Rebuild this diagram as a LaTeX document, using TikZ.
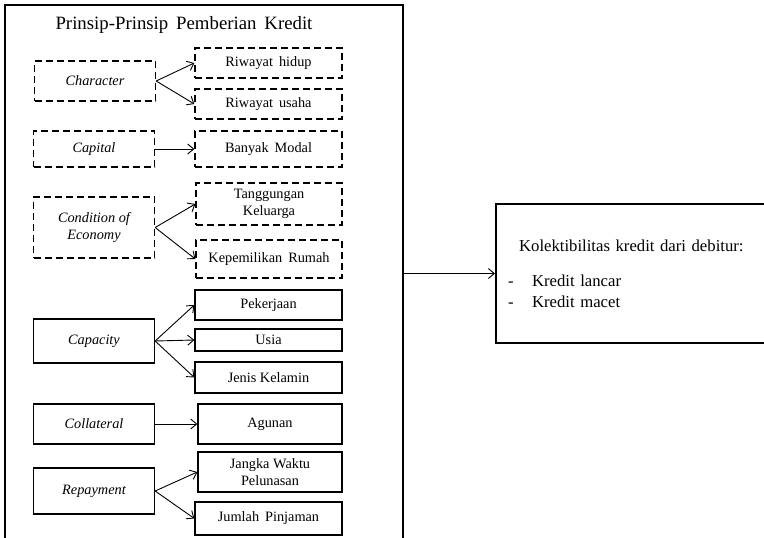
\documentclass[tikz,border=0pt]{standalone}
\usepackage{fontspec}
\setmainfont{Liberation Serif}
\usetikzlibrary{arrows.meta, positioning}

\begin{document}
\begin{tikzpicture}[
    x=1pt, y=-1pt,
    rahmen/.style={rectangle, draw=black, line width=2pt, inner sep=0pt},
    kriteria/.style={rectangle, draw=black, line width=1.3pt, inner sep=0pt, minimum width=121pt, align=center, font=\fontsize{14.3pt}{17pt}\selectfont\itshape},
    indikator/.style={rectangle, draw=black, line width=1.3pt, inner sep=0pt, minimum width=147pt, align=center, font=\fontsize{14.3pt}{17pt}\selectfont},
    putus/.style={dash pattern=on 7pt off 4pt},
    hasil/.style={rectangle, draw=black, line width=2.2pt, inner xsep=12pt, text width=265pt, minimum height=139pt, align=left, font=\fontsize{16.7pt}{20.5pt}\selectfont},
    arrow/.style={-{Straight Barb[length=6pt, width=10pt]}, line width=0.9pt, draw=black}
]
    \clip (0,0) rectangle (764,538);

    \node[rahmen, minimum width=398pt, minimum height=560pt] (frame) at (204,285) {};
    \node[font=\fontsize{18.8pt}{22pt}\selectfont] (judul) at (184,25) {Prinsip-Prinsip\, Pemberian\, Kredit};

    \node[kriteria, putus, minimum height=40pt] (character) at (95,81) {Character};
    \node[indikator, putus, minimum height=30pt] (hidup) at (268.5,63) {Riwayat\, hidup};
    \node[indikator, putus, minimum height=30pt] (usaha) at (268.5,104) {Riwayat\, usaha};

    \node[kriteria, putus, minimum height=36pt] (capital) at (94,149) {Capital};
    \node[indikator, putus, minimum height=36pt] (modal) at (268.5,149) {Banyak\, Modal};

    \node[kriteria, putus, minimum height=61pt] (condition) at (94,227.5) {Condition of\\Economy};
    \node[indikator, putus, minimum width=146pt, minimum height=42pt] (tanggungan) at (269,204) {Tanggungan\\Keluarga};
    \node[indikator, putus, minimum width=146pt, minimum height=38pt] (rumah) at (269,259) {Kepemilikan\, Rumah};

    \node[kriteria, minimum height=44pt] (capacity) at (94,341) {Capacity};
    \node[indikator, minimum height=30pt] (pekerjaan) at (268.5,305) {Pekerjaan};
    \node[indikator, minimum height=22pt] (usia) at (268.5,340) {Usia};
    \node[indikator, minimum height=31pt] (kelamin) at (268.5,377.5) {Jenis Kelamin};

    \node[kriteria, minimum height=40pt] (collateral) at (94,424) {Collateral};
    \node[indikator, minimum width=144pt, minimum height=40pt] (agunan) at (270,424) {Agunan};

    \node[kriteria, minimum height=46pt] (repayment) at (94,491) {Repayment};
    \node[indikator, minimum width=144pt, minimum height=40pt] (jangka) at (270,472) {Jangka Waktu\\Pelunasan};
    \node[indikator, minimum height=33pt] (pinjaman) at (268.5,518.5) {Jumlah\, Pinjaman};

    \node[hasil, anchor=west] (kol) at (495,273.5) {\hspace*{11pt}Kolektibilitas kredit dari debitur:\\[15pt]\makebox[24pt][l]{-}Kredit lancar\\\makebox[24pt][l]{-}Kredit macet};

    \draw[arrow] (character.east) -- (hidup.west);
    \draw[arrow] (character.east) -- (usaha.west);
    \draw[arrow] (capital.east) -- (modal.west);
    \draw[arrow] (condition.east) -- (tanggungan.west);
    \draw[arrow] (condition.east) -- (rumah.west);
    \draw[arrow] (capacity.east) -- (pekerjaan.west);
    \draw[arrow] (capacity.east) -- (usia.west);
    \draw[arrow] (capacity.east) -- (kelamin.west);
    \draw[arrow] (collateral.east) -- (agunan.west);
    \draw[arrow] (repayment.east) -- (jangka.west);
    \draw[arrow] (repayment.east) -- (pinjaman.west);
    \draw[arrow] (frame.east |- kol.west) -- (kol.west);
\end{tikzpicture}
\end{document}
